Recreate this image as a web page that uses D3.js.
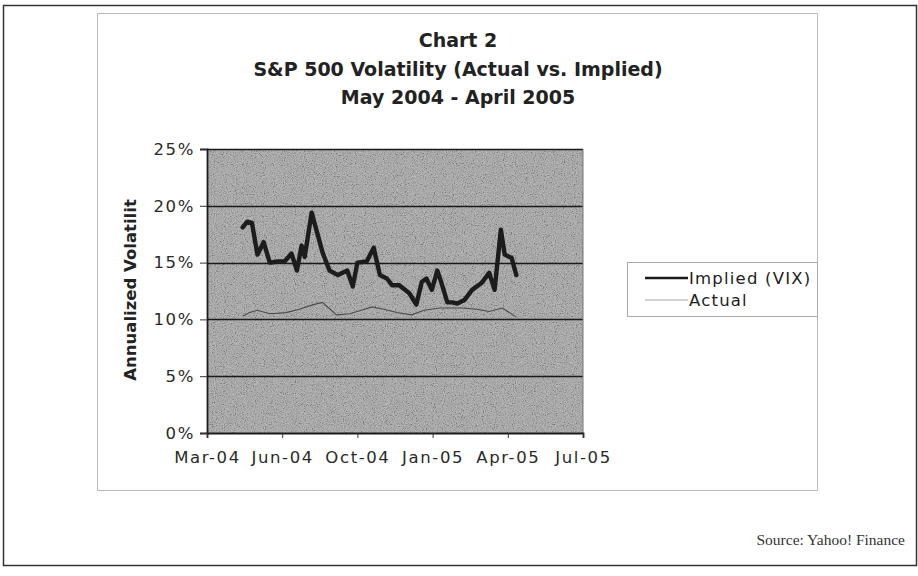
<!DOCTYPE html>
<html>
<head>
<meta charset="utf-8">
<script src="https://cdn.jsdelivr.net/npm/d3@7/dist/d3.min.js"></script>
<style>
  html, body { margin: 0; padding: 0; background: #fff; }
  svg { display: block; }
</style>
</head>
<body>
<svg id="chart" width="918" height="576"></svg>
<script>
// Weekly observations, May 2004 - April 2005
const impliedDates = ["2004-05-10","2004-05-16","2004-05-22","2004-05-29","2004-06-06","2004-06-14","2004-06-24","2004-07-03","2004-07-12","2004-07-19","2004-07-25","2004-07-29","2004-08-07","2004-08-21","2004-08-30","2004-09-10","2004-09-22","2004-09-29","2004-10-05","2004-10-17","2004-10-26","2004-11-03","2004-11-12","2004-11-19","2004-11-28","2004-12-11","2004-12-20","2004-12-27","2005-01-02","2005-01-09","2005-01-16","2005-01-21","2005-01-29","2005-02-04","2005-02-11","2005-02-20","2005-03-02","2005-03-14","2005-03-24","2005-03-31","2005-04-08","2005-04-13","2005-04-22","2005-04-28"];
const impliedVix = [18.1,18.6,18.5,15.7,16.8,15.0,15.1,15.1,15.8,14.3,16.5,15.5,19.4,15.9,14.3,13.9,14.3,12.9,15.0,15.1,16.3,13.9,13.6,13.0,13.0,12.3,11.3,13.3,13.6,12.6,14.3,13.3,11.5,11.5,11.4,11.7,12.6,13.2,14.1,12.6,17.9,15.7,15.4,13.9];

const actualDates = ["2004-05-10","2004-05-19","2004-05-29","2004-06-14","2004-07-05","2004-07-22","2004-08-09","2004-08-21","2004-09-08","2004-09-25","2004-10-10","2004-10-24","2004-11-08","2004-11-25","2004-12-14","2004-12-30","2005-01-19","2005-02-17","2005-03-08","2005-03-24","2005-04-10","2005-04-28"];
const actualVol = [10.3,10.6,10.8,10.5,10.6,10.9,11.3,11.5,10.4,10.5,10.8,11.1,10.9,10.6,10.4,10.8,11.0,11.0,10.9,10.7,11.0,10.2];

// Date-axis ticks
const xTickDates = ["2004-03-25","2004-06-30","2004-10-05","2005-01-10","2005-04-17","2005-07-23"];
const xTickLabels = ["Mar-04","Jun-04","Oct-04","Jan-05","Apr-05","Jul-05"];
const yTicks = [0, 5, 10, 15, 20, 25];

const titleLines = ["Chart 2", "S&P 500 Volatility (Actual vs. Implied)", "May 2004 - April 2005"];
const seriesNames = ["Implied (VIX)", "Actual"];

const parse = d3.timeParse("%Y-%m-%d");
const implied = impliedDates.map((d, i) => ({date: parse(d), value: impliedVix[i]}));
const actual = actualDates.map((d, i) => ({date: parse(d), value: actualVol[i]}));
const tickDates = xTickDates.map(parse);

const svg = d3.select("#chart");
const sans = "'DejaVu Sans', Verdana, sans-serif";

// Page frame
svg.append("rect").attr("x", 3.5).attr("y", 5.5).attr("width", 913).attr("height", 560)
  .attr("fill", "#fff").attr("stroke", "#333").attr("stroke-width", 1.5);

// Chart frame
svg.append("rect").attr("x", 97.5).attr("y", 13.5).attr("width", 720).attr("height", 477)
  .attr("fill", "#fff").attr("stroke", "#bbb").attr("stroke-width", 1);

const plot = {left: 207, right: 583, top: 149, bottom: 433};

const x = d3.scaleTime().domain([tickDates[0], tickDates[tickDates.length - 1]])
  .range([plot.left, plot.right]);
const y = d3.scaleLinear().domain([0, 25]).range([plot.bottom, plot.top]);

// Grainy gray plot background
const defs = svg.append("defs");
const noise = defs.append("filter").attr("id", "grain")
  .attr("x", 0).attr("y", 0).attr("width", "100%").attr("height", "100%");
noise.append("feTurbulence").attr("type", "fractalNoise").attr("baseFrequency", 0.9)
  .attr("numOctaves", 2).attr("seed", 4).attr("result", "t");
noise.append("feColorMatrix").attr("type", "matrix")
  .attr("values", "2.0 0 0 0 -0.5  2.0 0 0 0 -0.5  2.0 0 0 0 -0.5  0 0 0 0 0.26");

svg.append("rect").attr("x", plot.left).attr("y", plot.top)
  .attr("width", plot.right - plot.left).attr("height", plot.bottom - plot.top)
  .attr("fill", "#a2a2a2");
svg.append("rect").attr("x", plot.left).attr("y", plot.top)
  .attr("width", plot.right - plot.left).attr("height", plot.bottom - plot.top)
  .attr("fill", "#fff").attr("filter", "url(#grain)");

// Horizontal gridlines
svg.append("g").selectAll("line").data(yTicks.filter(v => v > 0)).join("line")
  .attr("x1", plot.left).attr("x2", plot.right)
  .attr("y1", d => Math.round(y(d)) + 0.5).attr("y2", d => Math.round(y(d)) + 0.5)
  .attr("stroke", "#1a1a1a").attr("stroke-width", 1.4);

// Right edge of plot area
svg.append("line").attr("x1", plot.right).attr("x2", plot.right)
  .attr("y1", plot.top).attr("y2", plot.bottom).attr("stroke", "#777").attr("stroke-width", 1);

// Axes
const yAxis = d3.axisLeft(y).tickValues(yTicks).tickFormat(d => d + "%").tickSize(7).tickPadding(5);
const gy = svg.append("g").attr("transform", `translate(${plot.left},0)`).call(yAxis);
const xAxis = d3.axisBottom(x).tickValues(tickDates)
  .tickFormat((d, i) => xTickLabels[i]).tickSize(5).tickPadding(19);
const gx = svg.append("g").attr("transform", `translate(0,${plot.bottom})`).call(xAxis);

[gx, gy].forEach(g => {
  g.select(".domain").attr("stroke", "#1a1a1a").attr("stroke-width", 1.8);
  g.selectAll(".tick line").attr("stroke", "#333").attr("stroke-width", 1);
  g.selectAll(".tick text").attr("fill", "#2a2a2a")
    .style("font-family", sans).style("font-size", "16.5px").style("letter-spacing", "1.6px");
});
gx.selectAll(".tick text").attr("dy", "0.35em");

// Series lines
const line = d3.line().x(d => x(d.date)).y(d => y(d.value));
svg.append("path").datum(actual).attr("d", line)
  .attr("fill", "none").attr("stroke", "#4a4a4a").attr("stroke-width", 1.1);
svg.append("path").datum(implied).attr("d", line)
  .attr("fill", "none").attr("stroke", "#1c1c1c").attr("stroke-width", 4.4)
  .attr("stroke-linejoin", "round").attr("stroke-linecap", "round");

// Titles
svg.append("g").selectAll("text").data(titleLines).join("text")
  .attr("x", 458).attr("y", (d, i) => 47 + i * 28.5)
  .attr("text-anchor", "middle").attr("fill", "#222")
  .style("font-family", sans).style("font-weight", "bold")
  .style("font-size", "19px").text(d => d);

// Y-axis title
svg.append("text").attr("transform", `translate(136,${(plot.top + plot.bottom) / 2 - 1}) rotate(-90)`)
  .attr("text-anchor", "middle").attr("fill", "#222")
  .style("font-family", sans).style("font-weight", "bold")
  .style("font-size", "16.5px").text("Annualized Volatilit");

// Legend
const lg = svg.append("g").attr("transform", "translate(627,262)");
lg.append("rect").attr("x", 0.5).attr("y", 0.5).attr("width", 190).attr("height", 54)
  .attr("fill", "#fff").attr("stroke", "#aaa").attr("stroke-width", 1);
const legendStyles = [{color: "#1c1c1c", width: 2.6}, {color: "#c4c4c4", width: 1.5}];
const items = lg.selectAll("g.item").data(seriesNames).join("g").attr("class", "item")
  .attr("transform", (d, i) => `translate(0,${16 + i * 22})`);
items.append("line").attr("x1", 18).attr("x2", 61).attr("y1", 0).attr("y2", 0)
  .attr("stroke", (d, i) => legendStyles[i].color).attr("stroke-width", (d, i) => legendStyles[i].width);
items.append("text").attr("x", 62).attr("y", 6).attr("fill", "#222")
  .style("font-family", sans).style("font-size", "16.5px").style("letter-spacing", "1.2px").text(d => d);

// Source note
svg.append("text").attr("x", 905).attr("y", 545).attr("text-anchor", "end").attr("fill", "#333")
  .style("font-family", "'Liberation Serif', 'Times New Roman', serif").style("font-size", "15.5px")
  .text("Source: Yahoo! Finance");
</script>
</body>
</html>
